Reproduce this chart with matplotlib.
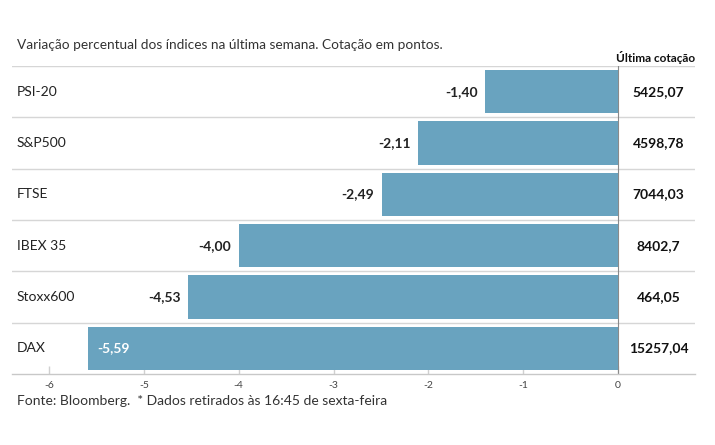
import matplotlib.pyplot as plt

# data
indices = ["PSI-20", "S&P500", "FTSE", "IBEX 35", "Stoxx600", "DAX"]
variacao = [-1.40, -2.11, -2.49, -4.00, -4.53, -5.59]
cotacao = ["5425,07", "4598,78", "7044,03", "8402,7", "464,05", "15257,04"]
ticks = [-6, -5, -4, -3, -2, -1, 0]

plt.rcParams['font.family'] = ['Lato', 'DejaVu Sans']

W, H = 715, 445
fig = plt.figure(figsize=(W / 100, H / 100), dpi=100)
ax = fig.add_axes([12 / W, 1 - 374 / H, (695 - 12) / W, (374 - 66) / H])

bar_color = "#69a3bf"
ypos = list(range(len(indices)))
ax.barh(ypos, variacao, height=0.85, color=bar_color, zorder=3)
ax.axvline(0, color="#8a8a8a", lw=0.8, zorder=2)

ax.set_xlim(-6.39, 0.81)
ax.set_ylim(len(indices) - 0.5, -0.5)

# row separators
for i in range(len(indices)):
    ax.axhline(i - 0.5, color="#d6d6d6", lw=1, zorder=1)

for s in ["top", "right", "left"]:
    ax.spines[s].set_visible(False)
ax.spines["bottom"].set_color("#c8c8c8")
ax.spines["bottom"].set_linewidth(1)

ax.set_yticks([])
ax.set_xticks(ticks)
ax.set_xticklabels([str(t) for t in ticks], fontsize=7.5, color="#444444")
ax.tick_params(axis="x", direction="in", length=6, color="#d0d0d0", width=1, pad=5)

trans = ax.get_yaxis_transform()
for i, (name, v, c) in enumerate(zip(indices, variacao, cotacao)):
    ax.text(5 / (695 - 12), i, name, transform=trans, ha="left", va="center",
            fontsize=10, color="#222222")
    lab = ("%.2f" % v).replace(".", ",")
    if v < -5:
        ax.text(v + 0.1, i, lab, ha="left", va="center", fontsize=10,
                fontweight="bold", color="white", zorder=4)
    else:
        ax.text(v - 0.08, i, lab, ha="right", va="center", fontsize=10,
                fontweight="bold", color="#222222", zorder=4)
    ax.text(0.425, i, c, ha="center", va="center", fontsize=10,
            fontweight="bold", color="#111111")

fig.text(17 / W, 1 - 45 / H, "Variação percentual dos índices na última semana. Cotação em pontos.",
         ha="left", va="center", fontsize=9.8, color="#333333")
fig.text(656 / W, 1 - 58 / H, "Última cotação", ha="center", va="center",
         fontsize=8.5, fontweight="bold", color="#111111")
fig.text(17 / W, 1 - 401 / H, "Fonte: Bloomberg.  * Dados retirados às 16:45 de sexta-feira",
         ha="left", va="center", fontsize=10, color="#333333")

fig.savefig("out.png", dpi=100, facecolor="white")
